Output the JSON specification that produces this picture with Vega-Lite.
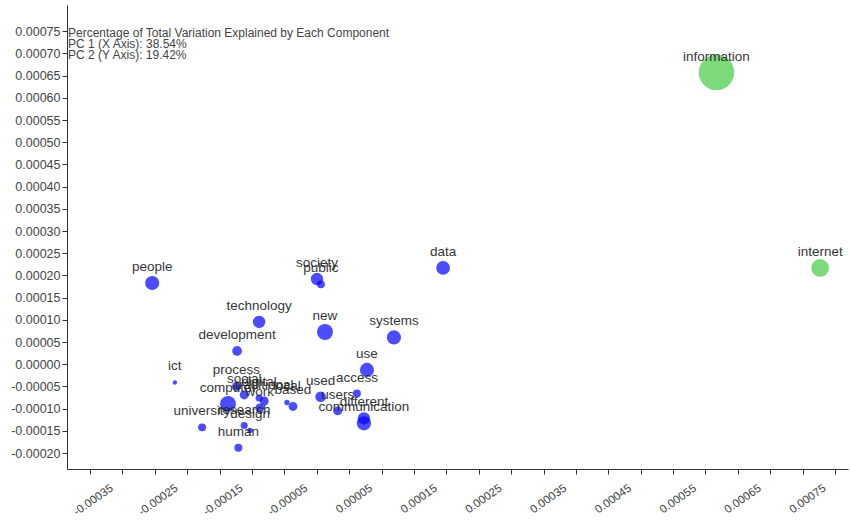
{
  "$schema": "https://vega.github.io/schema/vega-lite/v6.json",
  "width": 781,
  "height": 464,
  "autosize": {"type": "none"},
  "padding": {"left": 67, "top": 5, "right": 2, "bottom": 53},
  "background": "white",
  "config": {
    "view": {"stroke": null},
    "font": "Liberation Sans",
    "axis": {"grid": false, "domainColor": "#333", "tickColor": "#333", "labelColor": "#444", "labelFont": "Liberation Sans", "labelFontSize": 12.5, "tickSize": 5, "labelFlush": false, "labelOverlap": false, "labelBound": false, "title": null}
  },
  "datasets": {
    "words": [
      {"word": "information", "pc1": 0.000567, "pc2": 0.000657, "weight": 400, "cluster": "B"},
      {"word": "internet", "pc1": 0.000727, "pc2": 0.000217, "weight": 100, "cluster": "B"},
      {"word": "people", "pc1": -0.000304, "pc2": 0.000183, "weight": 64, "cluster": "A"},
      {"word": "data", "pc1": 0.000145, "pc2": 0.000217, "weight": 60, "cluster": "A"},
      {"word": "society", "pc1": -0.0000497, "pc2": 0.000192, "weight": 49, "cluster": "A"},
      {"word": "public", "pc1": -0.0000435, "pc2": 0.00018, "weight": 20, "cluster": "A"},
      {"word": "technology", "pc1": -0.000139, "pc2": 0.0000953, "weight": 49, "cluster": "A"},
      {"word": "new", "pc1": -0.0000373, "pc2": 0.0000727, "weight": 81, "cluster": "A"},
      {"word": "systems", "pc1": 0.0000691, "pc2": 0.0000604, "weight": 64, "cluster": "A"},
      {"word": "development", "pc1": -0.000173, "pc2": 0.00003, "weight": 30, "cluster": "A"},
      {"word": "use", "pc1": 0.0000275, "pc2": -0.0000128, "weight": 64, "cluster": "A"},
      {"word": "ict", "pc1": -0.000269, "pc2": -0.000041, "weight": 6, "cluster": "A"},
      {"word": "access", "pc1": 0.000012, "pc2": -0.0000658, "weight": 20, "cluster": "A"},
      {"word": "used", "pc1": -0.000044, "pc2": -0.000073, "weight": 36, "cluster": "A"},
      {"word": "users", "pc1": -0.0000177, "pc2": -0.000105, "weight": 25, "cluster": "A"},
      {"word": "different", "pc1": 0.0000228, "pc2": -0.000122, "weight": 49, "cluster": "A"},
      {"word": "communication", "pc1": 0.0000228, "pc2": -0.000133, "weight": 64, "cluster": "A"},
      {"word": "process", "pc1": -0.000174, "pc2": -0.00005, "weight": 25, "cluster": "A"},
      {"word": "social", "pc1": -0.000162, "pc2": -0.0000691, "weight": 25, "cluster": "A"},
      {"word": "digital", "pc1": -0.000139, "pc2": -0.0000759, "weight": 16, "cluster": "A"},
      {"word": "traditional", "pc1": -0.000131, "pc2": -0.0000827, "weight": 25, "cluster": "A"},
      {"word": "local", "pc1": -0.000096, "pc2": -0.000086, "weight": 9, "cluster": "A"},
      {"word": "work", "pc1": -0.000138, "pc2": -0.0000984, "weight": 25, "cluster": "A"},
      {"word": "based", "pc1": -0.0000867, "pc2": -0.000095, "weight": 25, "cluster": "A"},
      {"word": "computer", "pc1": -0.000187, "pc2": -0.0000894, "weight": 81, "cluster": "A"},
      {"word": "university", "pc1": -0.000227, "pc2": -0.000142, "weight": 20, "cluster": "A"},
      {"word": "research", "pc1": -0.000162, "pc2": -0.000138, "weight": 16, "cluster": "A"},
      {"word": "design", "pc1": -0.000153, "pc2": -0.000149, "weight": 9, "cluster": "A"},
      {"word": "human", "pc1": -0.000171, "pc2": -0.000188, "weight": 20, "cluster": "A"}
    ],
    "notes": [
      {"line": "Percentage of Total Variation Explained by Each Component", "pc1": -0.0004355, "pc2": 0.000745},
      {"line": "PC 1 (X Axis): 38.54%", "pc1": -0.0004355, "pc2": 0.000721},
      {"line": "PC 2 (Y Axis): 19.42%", "pc1": -0.0004355, "pc2": 0.000697}
    ]
  },
  "layer": [
    {
      "data": {"name": "words"},
      "mark": {"type": "circle", "opacity": 0.7, "strokeWidth": 1},
      "encoding": {
        "x": {"field": "pc1", "type": "quantitative", "scale": {"domain": [-0.0004355, 0.00077], "nice": false, "zero": false},
          "axis": {"values": [-0.0004, -0.00035, -0.0003, -0.00025, -0.0002, -0.00015, -0.0001, -0.00005, 0, 0.00005, 0.0001, 0.00015, 0.0002, 0.00025, 0.0003, 0.00035, 0.0004, 0.00045, 0.0005, 0.00055, 0.0006, 0.00065, 0.0007, 0.00075],
            "tickCount": 100,
            "labelExpr": "abs(round(datum.value*20000)) % 2 == 1 ? replace(format(datum.value, '.5f'), '\u2212', '-') : ''",
            "labelAngle": -35, "labelAlign": "right", "labelBaseline": "top", "labelPadding": 8, "labelOffset": -14, "labelFontSize": 11.5}},
        "y": {"field": "pc2", "type": "quantitative", "scale": {"domain": [-0.0002358, 0.000809], "nice": false, "zero": false},
          "axis": {"values": [-0.0002, -0.00015, -0.0001, -0.00005, 0, 0.00005, 0.0001, 0.00015, 0.0002, 0.00025, 0.0003, 0.00035, 0.0004, 0.00045, 0.0005, 0.00055, 0.0006, 0.00065, 0.0007, 0.00075], "tickCount": 100,
            "labelExpr": "replace(format(datum.value, '.5f'), '\u2212', '-')", "labelPadding": 2}},
        "size": {"field": "weight", "type": "quantitative", "scale": {"type": "linear", "domain": [0, 400], "range": [0, 1257], "zero": true}, "legend": null},
        "color": {"field": "cluster", "type": "nominal", "scale": {"domain": ["A", "B"], "range": ["#0000ff", "#45ca45"]}, "legend": null}
      }
    },
    {
      "data": {"name": "words"},
      "mark": {"type": "text", "dy": -12, "baseline": "alphabetic", "align": "center", "fontSize": 13.5, "font": "Liberation Sans", "color": "#222", "opacity": 0.9},
      "encoding": {
        "x": {"field": "pc1", "type": "quantitative"},
        "y": {"field": "pc2", "type": "quantitative"},
        "text": {"field": "word"}
      }
    },
    {
      "data": {"name": "notes"},
      "mark": {"type": "text", "align": "left", "baseline": "middle", "dx": 1, "fontSize": 12, "font": "Liberation Sans", "color": "#444"},
      "encoding": {
        "x": {"field": "pc1", "type": "quantitative"},
        "y": {"field": "pc2", "type": "quantitative"},
        "text": {"field": "line"}
      }
    }
  ]
}
